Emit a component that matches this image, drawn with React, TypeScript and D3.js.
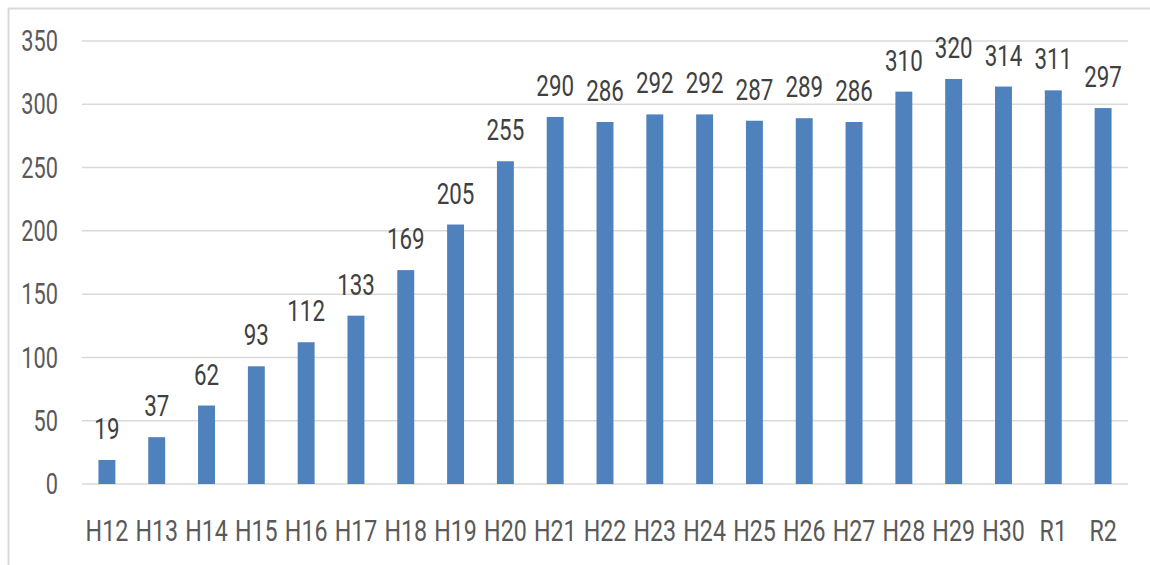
import React from "react";
import * as d3 from "d3";

const categories = ["H12","H13","H14","H15","H16","H17","H18","H19","H20","H21","H22","H23","H24","H25","H26","H27","H28","H29","H30","R1","R2"];
const values = [19,37,62,93,112,133,169,205,255,290,286,292,292,287,289,286,310,320,314,311,297];
const yTicks = [0,50,100,150,200,250,300,350];

const W = 1150, H = 565;
const left = 82, right = 1128, top = 41, bottom = 484;
const FONT = "Roboto, 'Noto Sans', sans-serif";
const FS = 29;

function T({ x, y, anchor, fill, children, dy, sx }: { x: number; y: number; anchor: string; fill: string; children: React.ReactNode; dy?: string; sx: number }) {
  return (
    <text transform={`translate(${x},${y}) scale(${sx},1)`} dy={dy} textAnchor={anchor} fontFamily={FONT} fontSize={FS} fill={fill}>
      {children}
    </text>
  );
}

export default function App() {
  const x = d3.scaleBand<string>().domain(categories).range([left, right]).paddingInner(0.66).paddingOuter(0.33);
  const y = d3.scaleLinear().domain([0, 350]).range([bottom, top]);
  return (
    <svg width={W} height={H} style={{ position: "absolute", left: 0, top: 0, background: "#fff" }}>
      <rect x={8.5} y={8.5} width={W + 10} height={H + 10} fill="none" stroke="#d9d9d9" strokeWidth={2} />
      {yTicks.map((t) => (
        <g key={t}>
          <line x1={left} x2={right} y1={y(t)} y2={y(t)} stroke="#d9d9d9" strokeWidth={1.5} />
          <T x={58} y={y(t)} dy="0.35em" anchor="end" fill="#595959" sx={0.75}>{t}</T>
        </g>
      ))}
      {categories.map((c, i) => {
        const cx = (x(c) as number) + x.bandwidth() / 2;
        return (
          <g key={c}>
            <rect x={x(c)} y={y(values[i])} width={x.bandwidth()} height={bottom - y(values[i])} fill="#4f81bd" />
            <T x={cx} y={y(values[i]) - 21} anchor="middle" fill="#404040" sx={0.77}>{values[i]}</T>
            <T x={cx} y={541} anchor="middle" fill="#595959" sx={0.8}>{c}</T>
          </g>
        );
      })}
    </svg>
  );
}
